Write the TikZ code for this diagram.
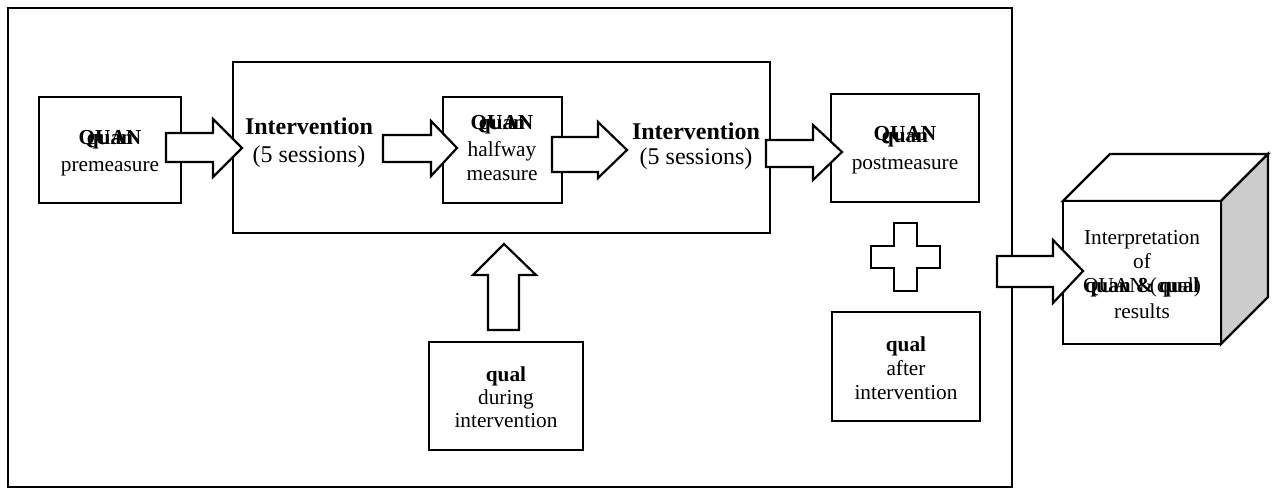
\documentclass[tikz,border=0pt]{standalone}
\usepackage{fontspec}
\setmainfont{Liberation Serif}
\tikzset{
  box/.style={draw, line width=2.4pt, fill=white, inner sep=0pt},
  barrow/.style={draw, line width=2.2pt, fill=white, line join=miter},
  txt/.style={anchor=base, inner sep=0pt, font=\fontsize{21.3}{24}\selectfont},
  big/.style={anchor=base, inner sep=0pt, font=\fontsize{24}{28}\selectfont},
}
\begin{document}
\begin{tikzpicture}[x=1pt,y=-1pt]
\useasboundingbox (0,0) rectangle (1275,489);
% frame
\node[box, line width=2pt, minimum width=1004pt, minimum height=479pt] (frame) at (510,247.5) {};
% boxes
\node[box, minimum width=537pt, minimum height=171pt] (interv) at (501.5,147.5) {};
\node[box, minimum width=142pt, minimum height=106pt] (pre) at (110,150) {};
\node[box, minimum width=119pt, minimum height=106pt] (half) at (502.5,150) {};
\node[box, minimum width=148pt, minimum height=108pt] (post) at (905,148) {};
\node[box, minimum width=148pt, minimum height=109pt] (after) at (906,366.5) {};
\node[box, minimum width=154pt, minimum height=108pt] (during) at (506,396) {};
% cube
\draw[barrow, line width=2.4pt] (1063,201) -- (1110,154) -- (1268,154) -- (1221,201) -- cycle;
\draw[barrow, line width=2.4pt, fill={rgb,255:red,204;green,204;blue,204}] (1221,201) -- (1268,154) -- (1268,297) -- (1221,344) -- cycle;
\node[box, minimum width=158pt, minimum height=143pt] (cube) at (1142,272.5) {};
% block arrows
\draw[barrow] (166,133) -- (213,133) -- (213,119) -- (242,148) -- (213,177) -- (213,162) -- (166,162) -- cycle;
\draw[barrow] (383,135) -- (431,135) -- (431,121) -- (457,148) -- (431,176) -- (431,162) -- (383,162) -- cycle;
\draw[barrow] (552,137) -- (598,137) -- (598,122) -- (627,150) -- (598,178) -- (598,172) -- (552,172) -- cycle;
\draw[barrow] (766,140) -- (813,140) -- (813,125) -- (842,152) -- (813,180) -- (813,167) -- (766,167) -- cycle;
\draw[barrow] (997,256) -- (1053,256) -- (1053,240) -- (1083,271) -- (1053,303) -- (1053,287) -- (997,287) -- cycle;
\draw[barrow] (488,330) -- (488,275) -- (473,275) -- (504,244) -- (536,275) -- (519,275) -- (519,330) -- cycle;
% plus
\draw[barrow] (894,223) -- (917,223) -- (917,246) -- (940,246) -- (940,268) -- (917,268) -- (917,291) -- (894,291) -- (894,268) -- (871,268) -- (871,246) -- (894,246) -- cycle;
% texts
\node[txt] (t1a) at (110,145) {\textbf{quan}};
\node[txt] (t1b) at (110,145) {\textbf{QUAN}};
\node[txt] (t1c) at (110,172) {premeasure};
\node[big] (t2a) at (309,135) {\textbf{Intervention}};
\node[big] (t2b) at (309,163) {(5 sessions)};
\node[txt] (t3a) at (502,130) {\textbf{QUAN}};
\node[txt] (t3b) at (502,130) {\textbf{quan}};
\node[txt] (t3c) at (502,157) {halfway};
\node[txt] (t3d) at (502,181) {measure};
\node[big] (t4a) at (696,140) {\textbf{Intervention}};
\node[big] (t4b) at (696,165) {(5 sessions)};
\node[txt] (t5a) at (905,141) {\textbf{QUAN}};
\node[txt] (t5b) at (905,143) {\textbf{quan}};
\node[txt] (t5c) at (905,170) {postmeasure};
\node[txt] (t6a) at (506,381) {\textbf{qual}};
\node[txt] (t6b) at (506,404) {during};
\node[txt] (t6c) at (506,427) {intervention};
\node[txt] (t7a) at (906,351) {\textbf{qual}};
\node[txt] (t7b) at (906,375) {after};
\node[txt] (t7c) at (906,399) {intervention};
\node[txt] (t8a) at (1142,245) {Interpretation};
\node[txt] (t8b) at (1142,269) {of};
\node[txt] (t8c) at (1142,293) {\textbf{quan \& qual}};
\node[txt] (t8d) at (1142,293) {QUAN (qual)};
\node[txt] (t8e) at (1142,318) {results};
\end{tikzpicture}
\end{document}
